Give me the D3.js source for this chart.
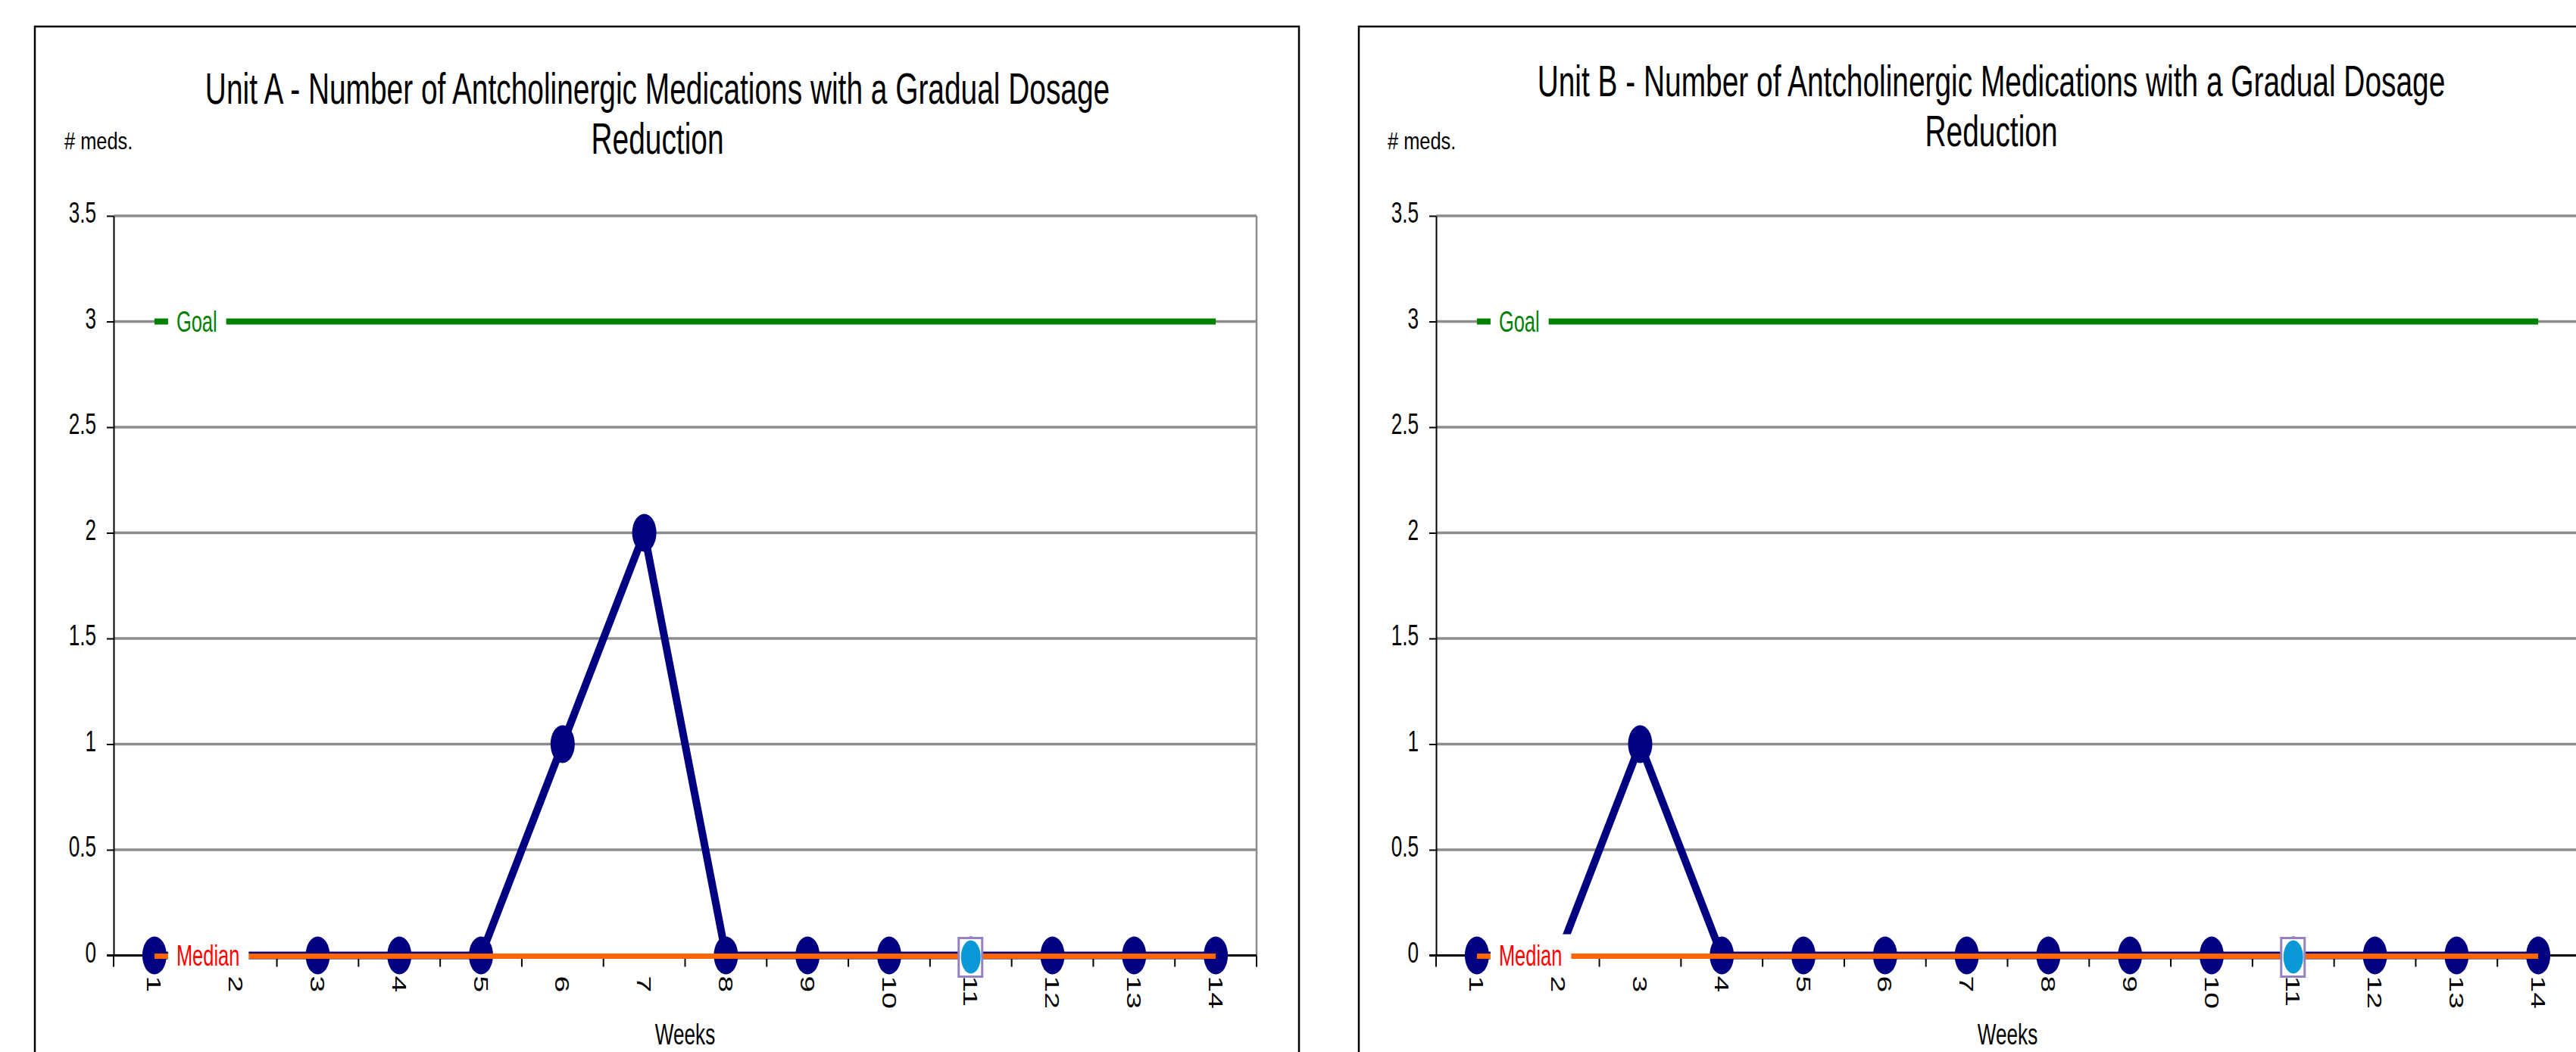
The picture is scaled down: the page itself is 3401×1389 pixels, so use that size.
<!DOCTYPE html>
<html>
<head>
<meta charset="utf-8">
<script src="https://cdn.jsdelivr.net/npm/d3@7"></script>
<style>
html,body{margin:0;padding:0;background:#fff;overflow:hidden}
</style>
</head>
<body>
<svg id="chart" width="3401" height="1389"></svg>
<script>
// ---------- DATA ----------
const weeks = ["1","2","3","4","5","6","7","8","9","10","11","12","13","14"];
const unitAValues = [0,0,0,0,0,1,2,0,0,0,0,0,0,0];
const unitBValues = [0,0,1,0,0,0,0,0,0,0,0,0,0,0];
const goalValues   = [3,3,3,3,3,3,3,3,3,3,3,3,3,3];
const medianValues = [0,0,0,0,0,0,0,0,0,0,0,0,0,0];
const highlightWeek = "11";
const yTicks = [0,0.5,1,1.5,2,2.5,3,3.5];
const titleLine1 = [
  "Unit A - Number of Antcholinergic Medications with a Gradual Dosage",
  "Unit B - Number of Antcholinergic Medications with a Gradual Dosage"
];
const titleLine2 = "Reduction";
const yAxisTitle = "# meds.";
const xAxisTitle = "Weeks";
const goalLabel = "Goal";
const medianLabel = "Median";

// ---------- STYLE / LAYOUT ----------
const FONT = "'Liberation Sans', Arial, Helvetica, sans-serif";
const SX = 0.67;           // horizontal text compression seen in the picture
const svg = d3.select("#chart");

const layouts = [
  {frameX:46,  frameW:1669, left:150,  right:1659, titleX:868,  t1:137, t2:203, medsX:85,   values:unitAValues, title:titleLine1[0]},
  {frameX:1794,frameW:1700, left:1896, right:3405, titleX:2629, t1:127, t2:193, medsX:1832, values:unitBValues, title:titleLine1[1]}
];

function sqText(parent, str, x, y, size, opts = {}) {
  const t = parent.append("text")
    .attr("transform", `translate(${x},${y}) scale(${opts.sx || SX},1)${opts.extra || ""}`)
    .attr("font-family", FONT)
    .attr("font-size", size)
    .attr("fill", opts.fill || "#000")
    .attr("text-anchor", opts.anchor || "start")
    .text(str);
  if (opts.dy) t.attr("dy", opts.dy);
  return t;
}

function drawChart(cfg) {
  const g = svg.append("g");

  // outer frame
  g.append("rect")
    .attr("x", cfg.frameX).attr("y", 35)
    .attr("width", cfg.frameW).attr("height", 1400)
    .attr("fill", "none").attr("stroke", "#000").attr("stroke-width", 2.5);

  const x = d3.scaleBand().domain(weeks).range([cfg.left, cfg.right]).padding(0);
  const y = d3.scaleLinear().domain([0, 3.5]).range([1261.5, 285]);
  const cx = d => x(d) + x.bandwidth() / 2;

  // gridlines
  g.append("g").selectAll("line")
    .data(yTicks.filter(t => t > 0)).join("line")
    .attr("x1", cfg.left).attr("x2", cfg.right)
    .attr("y1", d => y(d)).attr("y2", d => y(d))
    .attr("stroke", "#8c8c8c").attr("stroke-width", 3.5);

  // right border of plot
  g.append("line")
    .attr("x1", cfg.right).attr("x2", cfg.right)
    .attr("y1", y(3.5)).attr("y2", y(0))
    .attr("stroke", "#8c8c8c").attr("stroke-width", 2.5);

  // y axis
  const ya = g.append("g")
    .attr("transform", `translate(${cfg.left},0)`)
    .call(d3.axisLeft(y).tickValues(yTicks).tickSize(9).tickSizeOuter(0).tickFormat(d3.format("~g")));
  ya.attr("font-family", FONT).attr("font-size", 39);
  ya.select(".domain").attr("stroke", "#000").attr("stroke-width", 2);
  ya.selectAll(".tick line").attr("stroke", "#000").attr("stroke-width", 2);
  ya.selectAll(".tick text")
    .attr("x", -23 / SX).attr("dy", "0.23em")
    .attr("transform", `scale(${SX},1)`)
    .attr("fill", "#000");

  // x axis line
  g.append("line")
    .attr("x1", cfg.left - 9).attr("x2", cfg.right)
    .attr("y1", y(0)).attr("y2", y(0))
    .attr("stroke", "#000").attr("stroke-width", 3);

  // x tick marks at category boundaries
  g.append("g").selectAll("line")
    .data(d3.range(weeks.length + 1)).join("line")
    .attr("x1", i => cfg.left + i * x.step()).attr("x2", i => cfg.left + i * x.step())
    .attr("y1", y(0)).attr("y2", y(0) + 15)
    .attr("stroke", "#000").attr("stroke-width", 2);

  // x tick labels (rotated)
  const xa = g.append("g")
    .attr("transform", `translate(0,${y(0)})`)
    .call(d3.axisBottom(x).tickSize(0).tickSizeOuter(0));
  xa.attr("font-family", FONT).attr("font-size", 39);
  xa.select(".domain").remove();
  xa.selectAll(".tick text")
    .attr("x", 0).attr("y", 0).attr("dy", "0.36em")
    .attr("text-anchor", "start")
    .attr("fill", "#000")
    .attr("transform", `translate(0,27) scale(${SX},1) rotate(90)`);

  // goal line
  const line = d3.line().x((d, i) => cx(weeks[i])).y(d => y(d));
  g.append("path").datum(goalValues)
    .attr("d", line).attr("fill", "none")
    .attr("stroke", "#008000").attr("stroke-width", 8);

  // data line
  g.append("path").datum(cfg.values)
    .attr("d", line).attr("fill", "none")
    .attr("stroke", "#000080").attr("stroke-width", 10)
    .attr("stroke-linejoin", "round");

  // markers
  g.append("g").selectAll("ellipse")
    .data(cfg.values).join("ellipse")
    .attr("cx", (d, i) => cx(weeks[i])).attr("cy", d => y(d))
    .attr("rx", 16).attr("ry", 25)
    .attr("fill", "#000080");

  // median line
  g.append("path").datum(medianValues)
    .attr("d", line).attr("fill", "none")
    .attr("transform", "translate(0,1)")
    .attr("stroke", "#FF6600").attr("stroke-width", 7);

  // highlighted point
  const hi = weeks.indexOf(highlightWeek);
  const hx = cx(highlightWeek), hy = y(cfg.values[hi]);
  g.append("rect")
    .attr("x", hx - 16).attr("y", hy - 23)
    .attr("width", 31).attr("height", 51)
    .attr("fill", "#fff").attr("stroke", "#9580C0").attr("stroke-width", 3);
  g.append("ellipse")
    .attr("cx", hx).attr("cy", hy + 2)
    .attr("rx", 13).attr("ry", 22)
    .attr("fill", "#0A98D6");

  // in-line labels (Goal / Median)
  function inlineLabel(str, val, color) {
    const x0 = cx(weeks[0]) + 18;
    const yy = y(val);
    const box = g.append("rect").attr("fill", "#fff");
    const t = sqText(g, str, x0 + 11, yy, 38, {fill: color, dy: "0.36em"});
    const w = t.node().getComputedTextLength() * SX;
    box.attr("x", x0).attr("y", yy - 28).attr("width", w + 23).attr("height", 56);
  }
  inlineLabel(goalLabel, goalValues[0], "#008000");
  inlineLabel(medianLabel, medianValues[0], "#FF0000");

  // titles
  sqText(g, cfg.title, cfg.titleX, cfg.t1, 58, {anchor: "middle"});
  sqText(g, titleLine2, cfg.titleX, cfg.t2, 58, {anchor: "middle"});
  sqText(g, yAxisTitle, cfg.medsX, 197, 31, {sx: 0.82});
  sqText(g, xAxisTitle, (cfg.left + cfg.right) / 2, 1379, 39, {anchor: "middle"});
}

layouts.forEach(drawChart);
</script>
</body>
</html>
